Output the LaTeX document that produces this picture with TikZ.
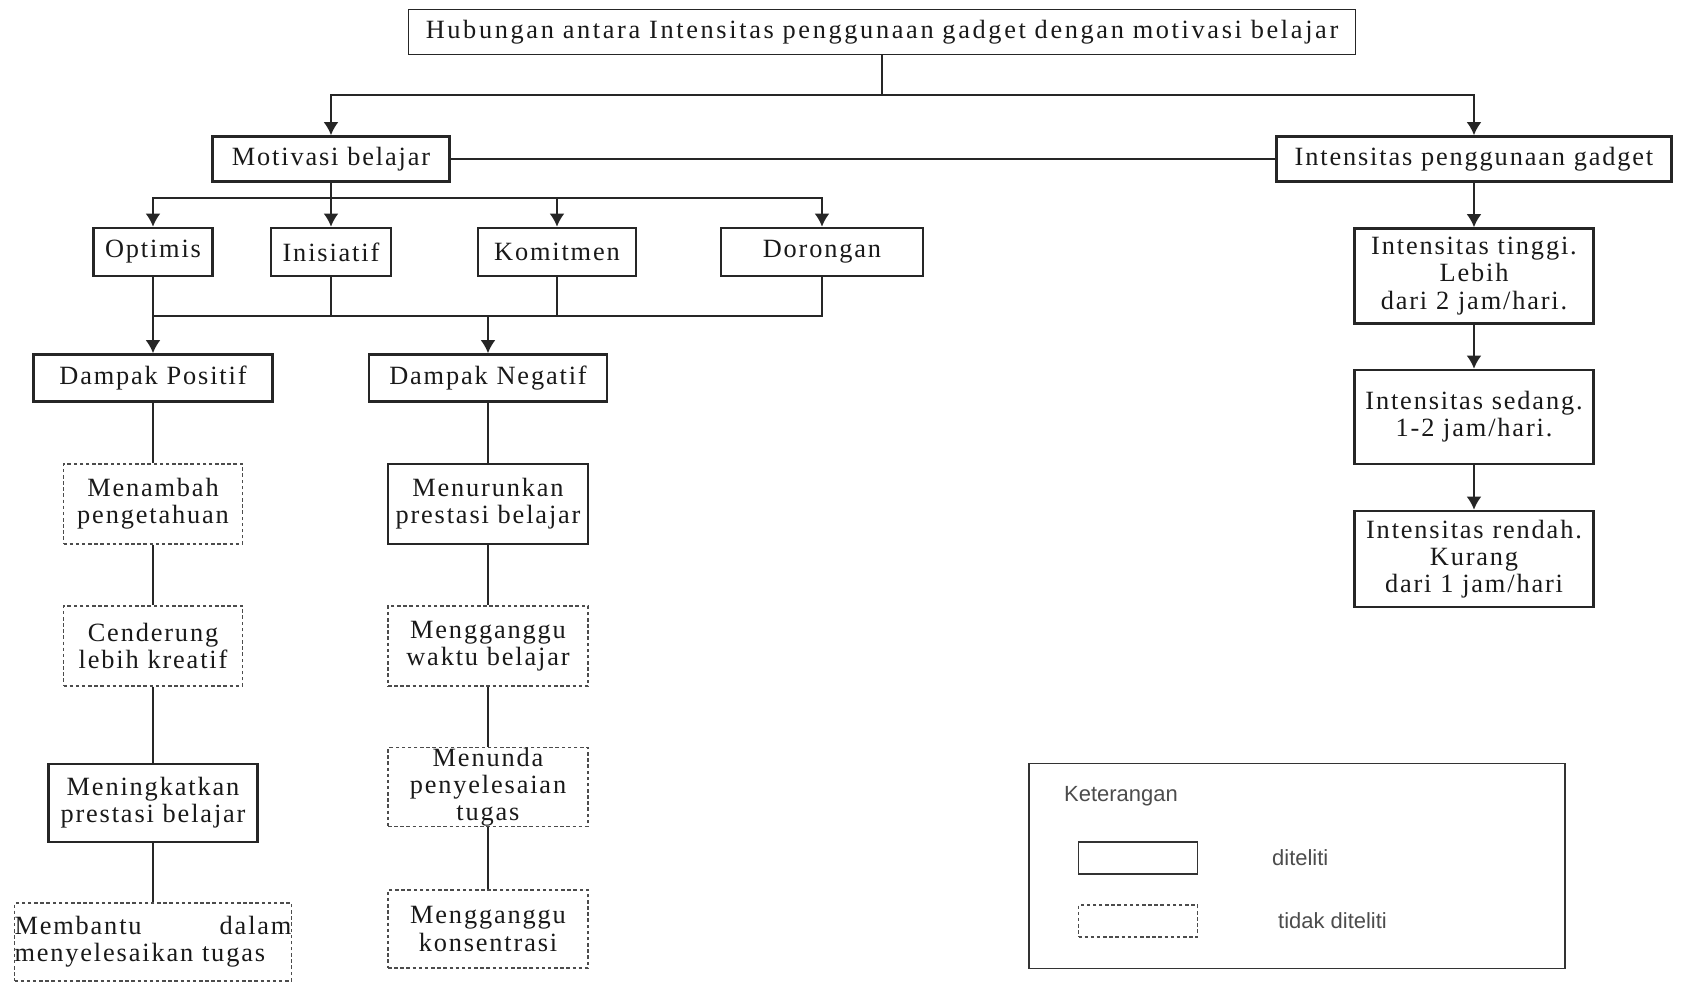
\documentclass[tikz,border=0pt]{standalone}
\usepackage{fontspec}
\setmainfont{Liberation Serif}[LetterSpace=7]
\newfontfamily\judulfont{Liberation Serif}[LetterSpace=10]
\newfontfamily\legfont{Liberation Sans}
\usetikzlibrary{arrows.meta}
\tikzset{
    kotak/.style={draw=black!85, line width=1.5pt, align=center, inner sep=0pt, text=black!90},
    putus/.style={draw=black!70, dash pattern=on 2pt off 1.5pt, line width=0.7pt, align=center, inner sep=0pt, text=black!90},
    garis/.style={draw=black!85, line width=0.9pt},
    panah/.style={garis, -{Latex[length=7.5pt,width=8.5pt]}},
    ket/.style={anchor=west, text=black!70, font=\legfont\fontsize{12.5}{14}\selectfont}
}
\begin{document}
\begin{tikzpicture}[x=0.02cm, y=-0.02cm, font=\fontsize{15}{15.5}\selectfont]
    \useasboundingbox (0,0) rectangle (1685,983);
    \node[kotak, line width=0.8pt, text width=18.94cm, minimum height=0.9cm, font=\judulfont\fontsize{15}{15.5}\selectfont] (judul) at (882,32) {Hubungan antara Intensitas penggunaan gadget dengan motivasi belajar};
    \node[kotak, text width=4.74cm, minimum height=0.9cm] (motivasi) at (331,159) {Motivasi belajar};
    \node[kotak, text width=7.9cm, minimum height=0.9cm] (intensitas) at (1474,159) {Intensitas penggunaan gadget};
    \node[kotak, text width=2.38cm, minimum height=0.96cm] (optimis) at (153,252) {Optimis};
    \node[kotak, text width=2.4cm, minimum height=0.96cm] (inisiatif) at (331,252) {Inisiatif};
    \node[kotak, text width=3.16cm, minimum height=0.96cm] (komitmen) at (557,252) {Komitmen};
    \node[kotak, text width=4.04cm, minimum height=0.96cm] (dorongan) at (822,252) {Dorongan};
    \node[kotak, text width=4.78cm, minimum height=0.94cm] (positif) at (153,378) {Dampak Positif};
    \node[kotak, text width=4.76cm, minimum height=0.94cm] (negatif) at (488,378) {Dampak Negatif};
    % dampak positif
    \node[putus, text width=3.58cm, minimum height=1.6cm] (menambah) at (153,504) {Menambah\\pengetahuan};
    \node[putus, text width=3.58cm, minimum height=1.6cm] (kreatif) at (153,646) {Cenderung\\lebih kreatif};
    \node[kotak, text width=4.18cm, minimum height=1.56cm] (meningkat) at (153,803) {Meningkatkan\\prestasi belajar};
    \node[putus, text width=5.54cm, minimum height=1.56cm, align=left] (membantu) at (153,942) {Membantu \hfill dalam\\menyelesaikan tugas};
    % dampak negatif
    \node[kotak, text width=4.0cm, minimum height=1.6cm] (menurun) at (488,504) {Menurunkan\\prestasi belajar};
    \node[putus, text width=4.0cm, minimum height=1.6cm] (waktu) at (488,646) {Mengganggu\\waktu belajar};
    \node[putus, text width=4.0cm, minimum height=1.56cm] (menunda) at (488,787) {Menunda\\penyelesaian\\tugas};
    \node[putus, text width=4.0cm, minimum height=1.56cm] (konsentrasi) at (488,929) {Mengganggu\\konsentrasi};
    % intensitas
    \node[kotak, text width=4.78cm, minimum height=1.9cm] (tinggi) at (1474,276) {Intensitas tinggi.\\Lebih\\dari 2 jam/hari.};
    \node[kotak, text width=4.78cm, minimum height=1.88cm] (sedang) at (1474,417) {Intensitas sedang.\\1-2 jam/hari.};
    \node[kotak, text width=4.78cm, minimum height=1.92cm] (rendah) at (1474,559) {Intensitas rendah.\\Kurang\\dari 1 jam/hari};
    % keterangan
    \node[draw=black!80, line width=1pt, minimum width=10.72cm, minimum height=4.1cm] (legenda) at (1297,866) {};
    \node[ket] (judulket) at (1058,796) {Keterangan};
    \node[draw=black!80, line width=0.8pt, minimum width=2.38cm, minimum height=0.64cm] (contoh1) at (1138,858) {};
    \node[ket] (teliti) at (1266,858) {diteliti};
    \node[putus, text width=2.38cm, minimum height=0.64cm] (contoh2) at (1138,921) {};
    \node[ket] (tidakteliti) at (1272,921) {tidak diteliti};
    \coordinate (cabang1) at (882,95);
    \coordinate (cabang2) at (331,198);
    \coordinate (cabang3) at (488,316);
    \draw[garis] (judul.south) -- (cabang1);
    \draw[panah] (cabang1) -| (motivasi.north);
    \draw[panah] (cabang1) -| (intensitas.north);
    \draw[garis] (motivasi) -- (intensitas);
    \draw[garis] (motivasi.south) -- (cabang2);
    \draw[panah] (cabang2) -| (optimis.north);
    \draw[panah] (cabang2) -- (inisiatif.north);
    \draw[panah] (cabang2) -| (komitmen.north);
    \draw[panah] (cabang2) -| (dorongan.north);
    \draw[garis] (optimis.south) |- (cabang3);
    \draw[garis] (inisiatif.south) |- (cabang3);
    \draw[garis] (komitmen.south) |- (cabang3);
    \draw[garis] (dorongan.south) |- (cabang3);
    \draw[panah] (optimis.south) -- (positif.north);
    \draw[panah] (cabang3) -- (negatif.north);
    \draw[garis] (positif) -- (menambah) -- (kreatif) -- (meningkat) -- (membantu);
    \draw[garis] (negatif) -- (menurun) -- (waktu) -- (menunda) -- (konsentrasi);
    \draw[panah] (intensitas) -- (tinggi);
    \draw[panah] (tinggi) -- (sedang);
    \draw[panah] (sedang) -- (rendah);
\end{tikzpicture}
\end{document}
